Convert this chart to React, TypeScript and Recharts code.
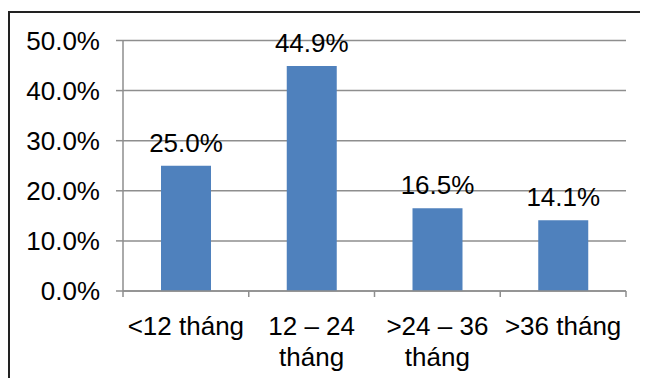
import { BarChart, Bar, XAxis, YAxis, CartesianGrid, LabelList } from "recharts";

// category labels, line breaks as in the original chart
const categories = ["<12 tháng", "12 – 24\ntháng", ">24 – 36\ntháng", ">36 tháng"];
const shares = [25.0, 44.9, 16.5, 14.1];
const yTicks = [0, 10, 20, 30, 40, 50];

const data = categories.map((name, i) => ({ name, value: shares[i] }));

const FONT = "'Liberation Sans', Arial, sans-serif";
const GRID = "#8e8e8e";
const textStyle = { fontSize: 26, fontFamily: FONT, fill: "#000" };

const pct = (v: number) => `${v.toFixed(1)}%`;

function CategoryTick(props: any) {
  const { x, y, payload, index, visibleTicksCount } = props;
  const half = payload?.offset || 62.9;
  const lines = String(payload.value).split("\n");
  const last = index === (visibleTicksCount ?? categories.length) - 1;
  return (
    <g>
      <line x1={x - half} x2={x - half} y1={y} y2={y + 6} stroke={GRID} strokeWidth={1.5} />
      {last && (
        <line x1={x + half} x2={x + half} y1={y} y2={y + 6} stroke={GRID} strokeWidth={1.5} />
      )}
      <text x={x} y={y + 44} textAnchor="middle" style={textStyle}>
        {lines.map((l, i) => (
          <tspan key={i} x={x} dy={i === 0 ? 0 : 31}>
            {l}
          </tspan>
        ))}
      </text>
    </g>
  );
}

export default function App() {
  return (
    <div style={{ position: "relative", width: 640, height: 370 }}>
      <div
        style={{
          position: "absolute",
          left: 0,
          top: 3,
          width: 640,
          height: 367,
          borderLeft: "2px solid #222",
          borderTop: "2px solid #222",
          boxSizing: "border-box",
        }}
      />
      <div style={{ position: "absolute", left: 0, top: 0 }}>
        <BarChart
          width={640}
          height={370}
          data={data}
          margin={{ top: 32.5, right: 22, bottom: 7, left: 0 }}
          barSize={50}
        >
          <CartesianGrid vertical={false} stroke={GRID} strokeWidth={1.5} />
          <XAxis
            dataKey="name"
            axisLine={{ stroke: GRID, strokeWidth: 1.5 }}
            tickLine={false}
            tickSize={0}
            tickMargin={0}
            height={80}
            interval={0}
            tick={<CategoryTick />}
          />
          <YAxis
            width={115}
            domain={[0, 50]}
            ticks={yTicks}
            tickFormatter={pct}
            axisLine={{ stroke: GRID, strokeWidth: 1.5 }}
            tickLine={{ stroke: GRID, strokeWidth: 1.5 }}
            tickSize={7}
            tickMargin={16}
            tick={textStyle}
          />
          <Bar dataKey="value" fill="#4f81bd" isAnimationActive={false}>
            <LabelList
              dataKey="value"
              position="top"
              offset={14}
              formatter={(v: any) => pct(Number(v))}
              style={textStyle}
            />
          </Bar>
        </BarChart>
      </div>
    </div>
  );
}
